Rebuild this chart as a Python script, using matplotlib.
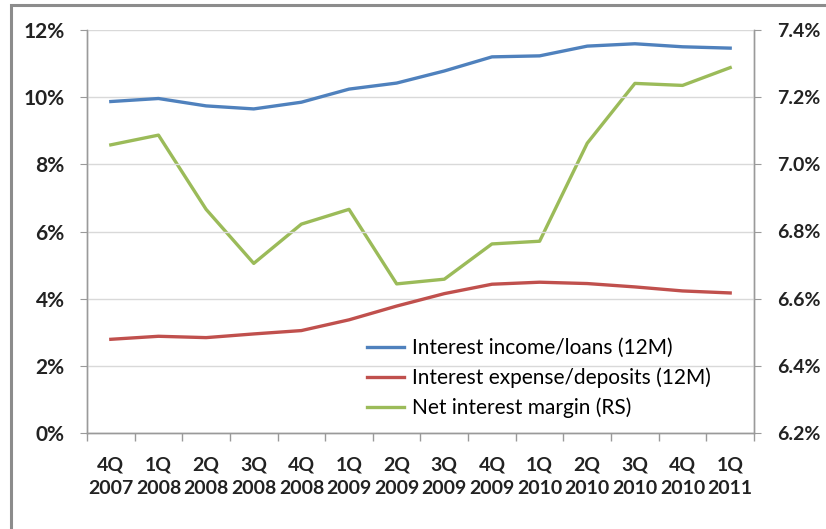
import matplotlib
matplotlib.use("Agg")
import matplotlib.pyplot as plt
from matplotlib.lines import Line2D
from matplotlib.ticker import FuncFormatter, MultipleLocator

quarters = ["4Q\n2007", "1Q\n2008", "2Q\n2008", "3Q\n2008", "4Q\n2008",
            "1Q\n2009", "2Q\n2009", "3Q\n2009", "4Q\n2009", "1Q\n2010",
            "2Q\n2010", "3Q\n2010", "4Q\n2010", "1Q\n2011"]
income_loans = [9.87, 9.96, 9.74, 9.65, 9.85, 10.24, 10.42, 10.78, 11.20,
                11.23, 11.52, 11.59, 11.50, 11.46]
expense_deposits = [2.79, 2.88, 2.84, 2.95, 3.05, 3.37, 3.78, 4.15, 4.43,
                    4.49, 4.45, 4.35, 4.23, 4.17]
net_margin = [7.058, 7.087, 6.866, 6.705, 6.822, 6.866, 6.644, 6.658,
              6.763, 6.771, 7.063, 7.241, 7.235, 7.288]

plt.rcParams["font.family"] = ["Lato", "DejaVu Sans"]

fig = plt.figure(figsize=(8.26, 5.29), dpi=100)
ax = fig.add_axes([87 / 826, 1 - 433 / 529, (754 - 87) / 826, (433 - 30) / 529])
ax2 = ax.twinx()

x = list(range(len(quarters)))
blue, red, green = "#4F81BD", "#C0504D", "#9BBB59"
lw = 2.4
h1, = ax.plot(x, income_loans, color=blue, lw=lw, label="Interest income/loans (12M)")
h2, = ax.plot(x, expense_deposits, color=red, lw=lw, label="Interest expense/deposits (12M)")
h3, = ax2.plot(x, net_margin, color=green, lw=lw, label="Net interest margin (RS)")

ax.set_xlim(-0.5, len(quarters) - 0.5)
ax.set_ylim(0, 12)
ax2.set_ylim(6.2, 7.4)
ax.yaxis.set_major_locator(MultipleLocator(2))
ax2.yaxis.set_major_locator(MultipleLocator(0.2))
ax.yaxis.set_major_formatter(FuncFormatter(lambda v, p: f"{v:.0f}%"))
ax2.yaxis.set_major_formatter(FuncFormatter(lambda v, p: f"{v:.1f}%"))

ax.set_xticks([i - 0.5 for i in range(len(quarters) + 1)])
ax.set_xticklabels([])
ax.set_xticks(x, minor=True)
ax.set_xticklabels(quarters, minor=True, fontsize=14, fontweight="bold",
                   color="#222222", linespacing=1.45)
ax.tick_params(axis="x", which="major", direction="out", length=6,
               color="#9a9a9a", width=1)
ax.tick_params(axis="x", which="minor", length=0, pad=17)
ax.tick_params(axis="y", direction="out", length=5, color="#9a9a9a",
               labelsize=15, labelcolor="#222222", pad=11)
ax2.tick_params(axis="y", direction="out", length=5, color="#9a9a9a",
                labelsize=14, labelcolor="#222222", pad=12)
for lab in ax.get_yticklabels() + ax2.get_yticklabels():
    lab.set_fontweight("bold")

ax.grid(axis="y", color="#d9d9d9", lw=1)
ax.set_axisbelow(True)
for a in (ax, ax2):
    a.spines["top"].set_visible(False)
    for s in ("left", "right", "bottom"):
        a.spines[s].set_color("#9a9a9a")
        a.spines[s].set_linewidth(1)
ax.set_zorder(ax2.get_zorder() + 1)
ax.patch.set_visible(False)

ax.legend(handles=[h1, h2, h3], loc="upper left",
          bbox_to_anchor=((359 - 87) / 667, (433 - 330) / 403),
          frameon=False, fontsize=15, handlelength=1.75, handletextpad=0.4,
          labelspacing=0.45, borderaxespad=0)

# outer frame on the left and top edges
fx, fy = 10.5 / 826, 1 - 5 / 529
fig.add_artist(Line2D([fx, fx, 1.0], [0.0, fy, fy], transform=fig.transFigure,
                      color="#8c8c8c", lw=2.2, solid_joinstyle="miter"))

fig.savefig("out.png", dpi=100)
